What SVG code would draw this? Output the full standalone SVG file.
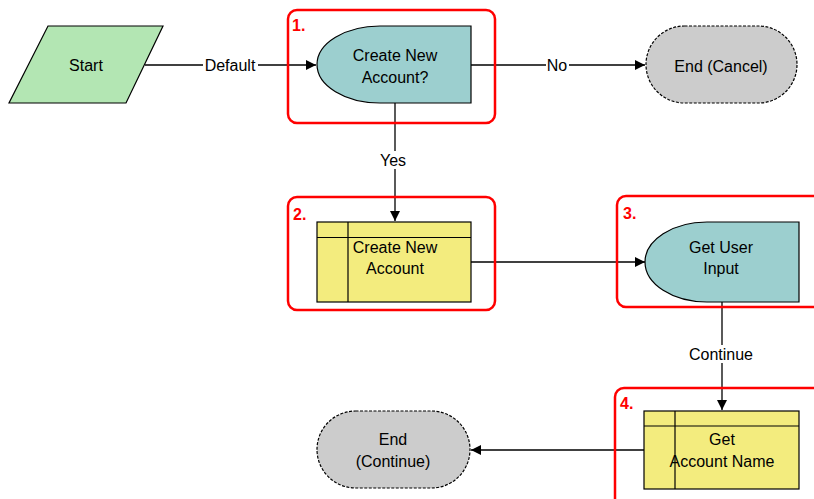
<svg xmlns="http://www.w3.org/2000/svg" width="814" height="499" viewBox="0 0 814 499">
<defs>
<style>
.t{font-family:"Liberation Sans",Arial,sans-serif;font-size:16px;fill:#000;text-anchor:middle}
.num{font-family:"Liberation Sans",Arial,sans-serif;font-size:16px;font-weight:bold;fill:#ff0000}
.grp{fill:none;stroke:#ff0000;stroke-width:2.5}
.ln{stroke:#000;stroke-width:1.3;fill:none}
.shape{stroke:#000;stroke-width:1.2}
.dash{stroke:#000;stroke-width:1.2;stroke-dasharray:3,1.5}
.lbl{fill:#fff}
</style>
<marker id="arr" viewBox="0 0 10 10" refX="10" refY="5" markerWidth="10" markerHeight="10" markerUnits="userSpaceOnUse" orient="auto">
<path d="M0,0 L10,5 L0,10 Z" fill="#000"/>
</marker>
</defs>
<rect width="814" height="499" fill="#fff"/>

<g id="connectors">
<line class="ln" x1="145" y1="65" x2="316" y2="65" marker-end="url(#arr)"/>
<rect class="lbl" x="203" y="56" width="55" height="18"/>
<text class="t" x="230" y="71">Default</text>
<line class="ln" x1="471" y1="65" x2="645" y2="65" marker-end="url(#arr)"/>
<rect class="lbl" x="546" y="56" width="23" height="18"/>
<text class="t" x="557" y="71">No</text>
<line class="ln" x1="395" y1="103" x2="395" y2="221" marker-end="url(#arr)"/>
<rect class="lbl" x="378" y="151" width="31" height="18"/>
<text class="t" x="393" y="166">Yes</text>
<line class="ln" x1="471" y1="262" x2="645" y2="262" marker-end="url(#arr)"/>
<line class="ln" x1="722" y1="302" x2="722" y2="410" marker-end="url(#arr)"/>
<rect class="lbl" x="686" y="345" width="70" height="18"/>
<text class="t" x="721" y="360">Continue</text>
<line class="ln" x1="644" y1="450" x2="471" y2="450" marker-end="url(#arr)"/>
</g>

<g id="start">
<polygon class="shape" points="48,26 163,26 126,103 9,103" fill="#b3e6b3"/>
<text class="t" x="86" y="71">Start</text>
</g>

<g id="step1">
<rect class="grp" x="288" y="10" width="207" height="113" rx="9"/>
<text class="num" x="292" y="31">1.</text>
<path class="shape" d="M380,26 H471 V103 H380 A63,38.5 0 0 1 380,26 Z" fill="#9ccfcf"/>
<text class="t" x="395" y="61">Create New</text>
<text class="t" x="395" y="83">Account?</text>
</g>

<g id="end-cancel">
<rect class="dash" x="646" y="26" width="151" height="77" rx="38.5" fill="#cccccc"/>
<text class="t" x="721" y="72">End (Cancel)</text>
</g>

<g id="step2">
<rect class="grp" x="288" y="197" width="207" height="113" rx="9"/>
<text class="num" x="293" y="220">2.</text>
<rect class="shape" x="317" y="222" width="154" height="80" fill="#f3ec7e"/>
<line class="shape" x1="317" y1="237.5" x2="471" y2="237.5"/>
<line class="shape" x1="348" y1="222" x2="348" y2="302"/>
<text class="t" x="395" y="253">Create New</text>
<text class="t" x="395" y="274">Account</text>
</g>

<g id="step3">
<rect class="grp" x="617" y="196" width="210" height="111" rx="9"/>
<text class="num" x="623" y="219">3.</text>
<path class="shape" d="M707,222 H799 V302 H707 A62,40 0 0 1 707,222 Z" fill="#9ccfcf"/>
<text class="t" x="721" y="253">Get User</text>
<text class="t" x="721" y="274">Input</text>
</g>

<g id="step4">
<rect class="grp" x="615" y="388" width="212" height="125" rx="9"/>
<text class="num" x="620" y="409">4.</text>
<rect class="shape" x="644" y="411" width="155" height="78" fill="#f3ec7e"/>
<line class="shape" x1="644" y1="426" x2="799" y2="426"/>
<line class="shape" x1="675" y1="411" x2="675" y2="489"/>
<text class="t" x="722" y="445">Get</text>
<text class="t" x="722" y="467">Account Name</text>
</g>

<g id="end-continue">
<rect class="dash" x="317" y="411" width="153" height="77" rx="38.5" fill="#cccccc"/>
<text class="t" x="393" y="445">End</text>
<text class="t" x="393" y="467">(Continue)</text>
</g>
</svg>
